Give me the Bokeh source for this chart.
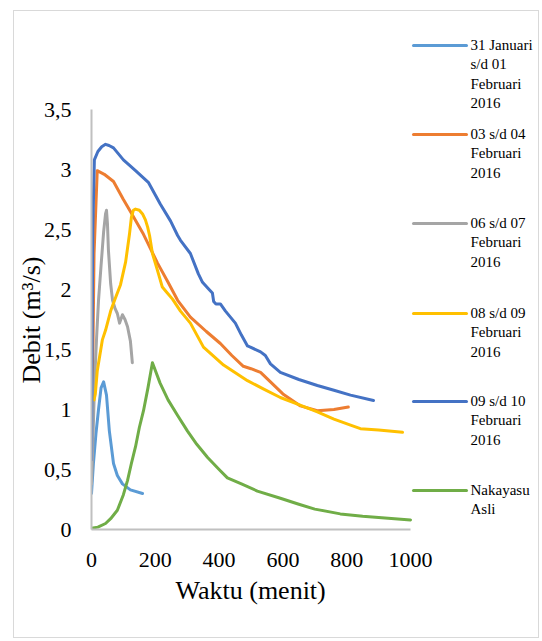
from bokeh.plotting import figure
from bokeh.models import FixedTicker, CustomJSTickFormatter, Range1d, Title
from bokeh.core.properties import value
from bokeh.embed import file_html
from bokeh.resources import INLINE

# ---------------- data ----------------
x_ticks = [0, 200, 400, 600, 800, 1000]
y_ticks = [0, 0.5, 1, 1.5, 2, 2.5, 3, 3.5]

series_names = [
    "31 Januari\ns/d 01\nFebruari\n2016",
    "03 s/d 04\nFebruari\n2016",
    "06 s/d 07\nFebruari\n2016",
    "08 s/d 09\nFebruari\n2016",
    "09 s/d 10\nFebruari\n2016",
    "Nakayasu\nAsli",
]
series_colors = ["#5B9BD5", "#ED7D31", "#A5A5A5", "#FFC000", "#4472C4", "#70AD47"]

t_lb = [0, 6, 14, 22, 30, 38, 47, 56, 69, 81, 97, 122, 160]
q_lb = [0.30, 0.55, 0.80, 1.00, 1.18, 1.23, 1.12, 0.82, 0.55, 0.45, 0.38, 0.33, 0.30]

t_or = [0, 8, 18, 40, 69, 100, 122, 163, 207, 240, 270, 310, 360, 404, 440, 476, 500,
        530, 561, 600, 655, 708, 760, 805]
q_or = [0.45, 2.30, 2.99, 2.96, 2.90, 2.75, 2.65, 2.46, 2.22, 2.06, 1.91, 1.77, 1.65, 1.55,
        1.45, 1.36, 1.34, 1.31, 1.23, 1.13, 1.03, 0.99, 1.00, 1.02]

t_gr = [0, 5, 10, 16, 22, 30, 38, 44, 47, 50, 53, 60, 66, 74, 81, 88, 97, 105, 113, 122, 128]
q_gr = [0.38, 0.80, 1.25, 1.60, 1.91, 2.20, 2.48, 2.63, 2.66, 2.55, 2.33, 2.05, 1.91, 1.84,
        1.80, 1.72, 1.79, 1.75, 1.69, 1.57, 1.39]

t_ye = [8, 12, 18, 34, 44, 60, 75, 91, 107, 119, 125, 131, 138, 150, 160, 169, 176, 182, 191,
        200, 210, 222, 235, 254, 279, 310, 351, 414, 489, 540, 592, 650, 708, 760, 812, 843,
        900, 975]
q_ye = [1.08, 1.13, 1.32, 1.58, 1.66, 1.82, 1.93, 2.04, 2.23, 2.46, 2.60, 2.66, 2.67, 2.66,
        2.63, 2.58, 2.52, 2.45, 2.30, 2.22, 2.13, 2.02, 1.98, 1.92, 1.82, 1.72, 1.52, 1.37,
        1.24, 1.17, 1.10, 1.04, 0.98, 0.92, 0.87, 0.84, 0.83, 0.81]

t_db = [0, 4, 9, 20, 32, 44, 55, 69, 100, 138, 179, 216, 248, 270, 279, 310, 335, 348, 365,
        379, 383, 390, 404, 420, 451, 470, 489, 498, 530, 545, 561, 592, 650, 708, 760, 812, 884]
q_db = [0.58, 2.50, 3.08, 3.15, 3.19, 3.21, 3.20, 3.18, 3.08, 2.99, 2.89, 2.71, 2.57, 2.45,
        2.41, 2.30, 2.13, 2.06, 2.01, 1.97, 1.90, 1.88, 1.88, 1.82, 1.72, 1.62, 1.53, 1.52,
        1.48, 1.45, 1.38, 1.31, 1.25, 1.20, 1.16, 1.12, 1.075]

t_gn = [0, 20, 44, 60, 81, 100, 113, 125, 138, 150, 163, 177, 191, 215, 240, 270, 301, 330,
        364, 400, 426, 470, 520, 592, 650, 700, 780, 850, 920, 1000]
q_gn = [0.01, 0.02, 0.05, 0.09, 0.16, 0.29, 0.41, 0.55, 0.69, 0.85, 0.99, 1.18, 1.39, 1.22,
        1.08, 0.95, 0.82, 0.71, 0.60, 0.50, 0.43, 0.38, 0.32, 0.26, 0.21, 0.17, 0.13, 0.11,
        0.095, 0.08]

all_t = [t_lb, t_or, t_gr, t_ye, t_db, t_gn]
all_q = [q_lb, q_or, q_gr, q_ye, q_db, q_gn]

# ---------------- figure ----------------
W, H = 526, 628
LEFT, TOP = 77, 19
FRAME_W, FRAME_H = W - LEFT, 499
PX_PER_T = 0.319          # pixels per minute
PX_PER_Q = 120.0          # pixels per m3/s
X_MAX = FRAME_W / PX_PER_T
Y_MAX = FRAME_H / PX_PER_Q
TICK_FONT = "Times"
TITLE_FONT = "Liberation Serif"

p = figure(width=W, height=H, output_backend="svg", toolbar_location=None,
           x_range=Range1d(0, X_MAX), y_range=Range1d(0, Y_MAX),
           min_border_left=LEFT, min_border_top=TOP, min_border_right=0,
           min_border_bottom=H - TOP - FRAME_H,
           styles={"margin-left": "13px", "margin-top": "10px",
                   "border": "1px solid #d9d9d9"})
p.outline_line_color = None
p.xgrid.visible = False
p.ygrid.visible = False

for ax in (p.xaxis[0], p.yaxis[0]):
    ax.axis_line_color = "#c0c0c0"
    ax.axis_line_width = 2
    ax.major_tick_line_color = None
    ax.minor_tick_line_color = None
    ax.major_tick_out = 0
    ax.major_tick_in = 0
    ax.minor_tick_out = 0
    ax.major_label_text_font = TICK_FONT
    ax.major_label_text_font_size = "22px"
    ax.major_label_text_color = "#000000"
    ax.formatter = CustomJSTickFormatter(code="return tick.toString().replace('.', ',');")

p.xaxis.ticker = FixedTicker(ticks=x_ticks)
p.yaxis.ticker = FixedTicker(ticks=y_ticks)
p.xaxis.bounds = (0, 1000)
p.yaxis.bounds = (0, 3.5)
p.xaxis.major_label_standoff = 23
p.yaxis.major_label_standoff = 20

# axis titles, placed over the 0..1000 / 0..3.5 spans rather than the whole frame
p.add_layout(Title(text="Waktu (menit)", align="left", offset=84, standoff=8,
                   text_font=TITLE_FONT, text_font_size="26px",
                   text_font_style="normal", text_color="#000000"), "below")
p.add_layout(Title(text="Debit (m³/s)", align="left", offset=146, standoff=-11,
                   text_font=TITLE_FONT, text_font_size="26px",
                   text_font_style="normal", text_color="#000000"), "left")

for t, q, c in zip(all_t, all_q, series_colors):
    p.line(t, q, line_color=c, line_width=3, line_cap="round", line_join="round")

# legend drawn inside the (extended) frame; page-pixel -> data helpers
def dx(px):
    return (px - 91) / PX_PER_T
def dy(py):
    return (529 - py) / PX_PER_Q

first_rows = [45, 134, 223, 313, 401, 490]
p.segment(x0=[dx(413)] * 6, y0=[dy(r) for r in first_rows],
          x1=[dx(466)] * 6, y1=[dy(r) for r in first_rows],
          line_color=series_colors, line_width=3, line_cap="round")
p.text(x=[dx(470)] * 6, y=[dy(r - 9) for r in first_rows], text=series_names,
       text_align="left", text_baseline="top", text_font=value("Liberation Serif"),
       text_font_size="15px", text_line_height=1.22, text_color="#000000")

open("out.html", "w").write(file_html(p, INLINE))
